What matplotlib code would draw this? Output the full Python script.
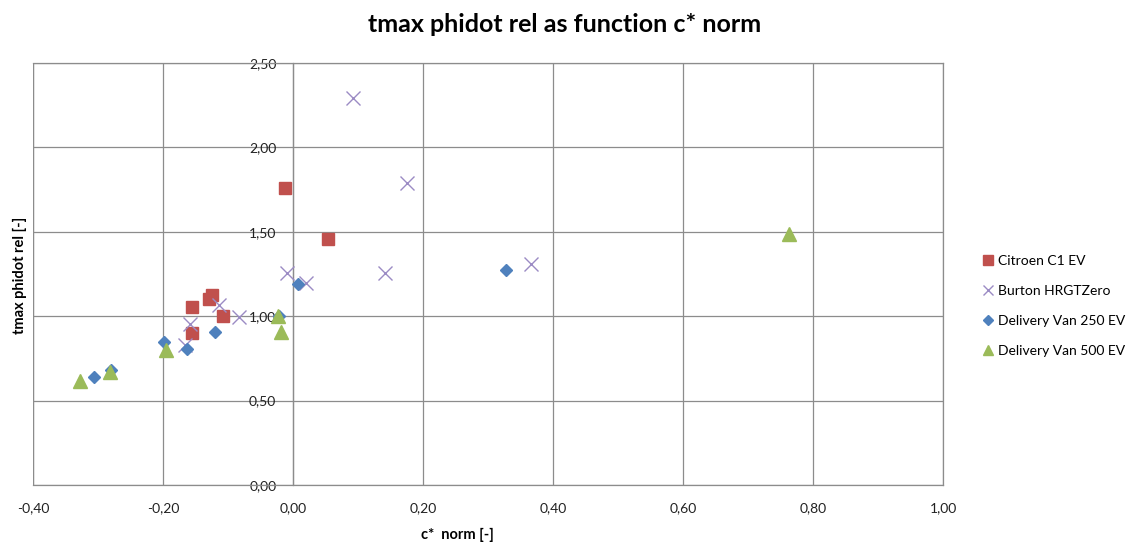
import matplotlib
matplotlib.use('Agg')
import matplotlib.pyplot as plt
from matplotlib.ticker import FuncFormatter, MultipleLocator

plt.rcParams['font.family'] = ['Lato', 'DejaVu Sans']

# ── Data ───────────────────────────────────────────────────
citroen_x = [-0.013, 0.054, -0.155, -0.130, -0.124, -0.108, -0.156]
citroen_y = [1.757, 1.456, 1.055, 1.100, 1.128, 1.002, 0.900]

burton_x = [0.092, 0.176, -0.010, 0.142, 0.366, 0.020, -0.114, -0.083, -0.159, -0.166]
burton_y = [2.295, 1.790, 1.258, 1.258, 1.310, 1.195, 1.066, 0.997, 0.955, 0.830]

van250_x = [0.327, 0.007, -0.022, -0.120, -0.163, -0.199, -0.280, -0.306]
van250_y = [1.274, 1.190, 1.000, 0.908, 0.808, 0.848, 0.680, 0.637]

van500_x = [0.763, -0.023, -0.018, -0.196, -0.281, -0.328]
van500_y = [1.487, 1.000, 0.905, 0.800, 0.668, 0.615]

W, H = 1145, 547
fig = plt.figure(figsize=(W / 100, H / 100), dpi=100)
ax = fig.add_axes([33 / W, (H - 485) / H, 910 / W, 422 / H])

GRID = '#8c8c8c'

ax.plot(citroen_x, citroen_y, 's', color='#C0504D', ms=9, mec='#C0504D',
        ls='none', zorder=3, label='Citroen C1 EV')
ax.plot(burton_x, burton_y, 'x', color='#9B8BC4', ms=10, mew=1.0,
        ls='none', zorder=3, label='Burton HRGTZero')
ax.plot(van250_x, van250_y, 'D', color='#4F81BD', ms=6.2, mec='#4F81BD',
        ls='none', zorder=3, label='Delivery Van 250 EV')
ax.plot(van500_x, van500_y, '^', color='#9BBB59', ms=9.5, mec='#9BBB59',
        ls='none', zorder=3, label='Delivery Van 500 EV')

# ── Axes ───────────────────────────────────────────────────
ax.set_xlim(-0.4, 1.0)
ax.set_ylim(0, 2.5)
ax.xaxis.set_major_locator(MultipleLocator(0.2))
ax.yaxis.set_major_locator(MultipleLocator(0.5))
fmt = FuncFormatter(lambda v, p: f"{v:.2f}".replace('.', ','))
ax.xaxis.set_major_formatter(fmt)
ax.yaxis.set_major_formatter(fmt)

ax.grid(True, color=GRID, linewidth=0.9, zorder=0)
ax.set_axisbelow(True)

# vertical axis crosses at x = 0 (Excel style), outer frame kept
ax.spines['left'].set_position(('data', 0))
for s in ax.spines.values():
    s.set_color(GRID)
    s.set_linewidth(0.9)
ax.axvline(-0.4, color=GRID, linewidth=0.9, zorder=1)

ax.tick_params(axis='both', length=0, labelsize=10, colors='#222222')
ax.tick_params(axis='x', pad=12)
ax.tick_params(axis='y', pad=12)

# ── Texts ──────────────────────────────────────────────────
fig.text(565 / W, 1 - 25 / H, 'tmax phidot rel as function c* norm',
         ha='center', va='center', fontsize=18, fontweight='bold')
fig.text(457 / W, 1 - 535 / H, 'c*  norm [-]', ha='center', va='center',
         fontsize=10.5, fontweight='bold')
fig.text(20 / W, 1 - 275 / H, 'tmax phidot rel [-]', ha='center', va='center',
         rotation=90, fontsize=10.5, fontweight='bold')

leg = fig.legend(loc='center left', bbox_to_anchor=(982 / W, 1 - 306 / H),
                 frameon=False, fontsize=10, handlelength=0.9,
                 handletextpad=0.25, labelspacing=1.3, borderpad=0,
                 borderaxespad=0, markerscale=0.75)

fig.savefig('out.png', dpi=100)
